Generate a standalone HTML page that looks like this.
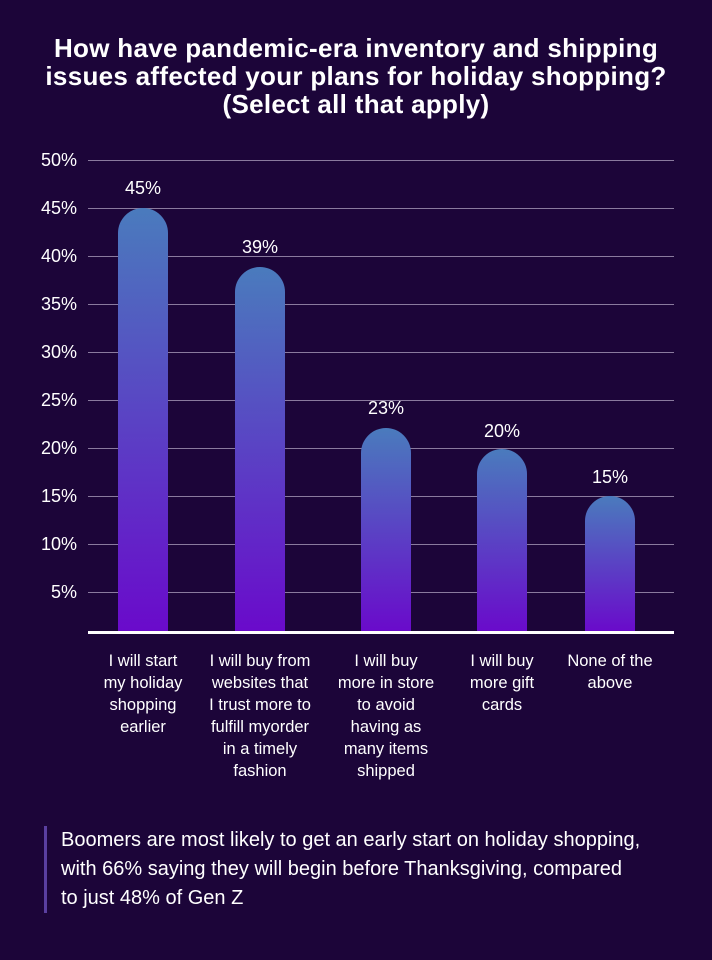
<!DOCTYPE html>
<html><head><meta charset="utf-8"><style>
body{margin:0;background:#1c0539;}
.w{position:relative;width:712px;height:960px;background:#1c0539;font-family:"Liberation Sans",sans-serif;color:#fff;overflow:hidden}
h1{position:absolute;left:0;top:34px;width:712px;margin:0;text-align:center;font-size:26px;line-height:28px;font-weight:bold;letter-spacing:0.3px}
.g{position:absolute;left:88px;width:586px;height:1px;background:#8a7a9e}
.yl{position:absolute;left:20px;width:57px;text-align:right;font-size:18px;line-height:20px}
.bar{position:absolute;width:50px;bottom:328px;border-radius:25px 25px 0 0;background:linear-gradient(#4a7bbd,#6a0acb)}
.v{position:absolute;width:80px;text-align:center;font-size:18px}
.xl{position:absolute;top:650px;width:140px;text-align:center;font-size:16.5px;line-height:22px;white-space:nowrap}
.note{position:absolute;left:44px;top:826px;border-left:3px solid #5a3fa0;padding-left:14px;font-size:20px;line-height:29px;width:640px;white-space:nowrap}
</style></head><body><div class="w">
<h1>How have pandemic-era inventory and shipping<br>issues affected your plans for holiday shopping?<br>(Select all that apply)</h1>
<div class="g" style="top:160px"></div><div class="g" style="top:208px"></div><div class="g" style="top:256px"></div><div class="g" style="top:304px"></div><div class="g" style="top:352px"></div><div class="g" style="top:400px"></div><div class="g" style="top:448px"></div><div class="g" style="top:496px"></div><div class="g" style="top:544px"></div><div class="g" style="top:592px"></div>
<div class="yl" style="top:150px">50%</div><div class="yl" style="top:198px">45%</div><div class="yl" style="top:246px">40%</div><div class="yl" style="top:294px">35%</div><div class="yl" style="top:342px">30%</div><div class="yl" style="top:390px">25%</div><div class="yl" style="top:438px">20%</div><div class="yl" style="top:486px">15%</div><div class="yl" style="top:534px">10%</div><div class="yl" style="top:582px">5%</div>
<div class="bar" style="left:118px;top:208px"></div>
<div class="bar" style="left:235px;top:267px"></div>
<div class="bar" style="left:361px;top:428px"></div>
<div class="bar" style="left:477px;top:449px"></div>
<div class="bar" style="left:585px;top:496px"></div>
<div style="position:absolute;left:88px;top:631px;width:586px;height:3px;background:#fff"></div>
<div class="v" style="left:103px;top:178px">45%</div>
<div class="v" style="left:220px;top:237px">39%</div>
<div class="v" style="left:346px;top:398px">23%</div>
<div class="v" style="left:462px;top:421px">20%</div>
<div class="v" style="left:570px;top:467px">15%</div>
<div class="xl" style="left:73px">I will start<br>my holiday<br>shopping<br>earlier</div>
<div class="xl" style="left:190px">I will buy from<br>websites that<br>I trust more to<br>fulfill myorder<br>in a timely<br>fashion</div>
<div class="xl" style="left:316px">I will buy<br>more in store<br>to avoid<br>having as<br>many items<br>shipped</div>
<div class="xl" style="left:432px">I will buy<br>more gift<br>cards</div>
<div class="xl" style="left:540px">None of the<br>above</div>
<div class="note">Boomers are most likely to get an early start on holiday shopping,<br>with 66% saying they will begin before Thanksgiving, compared<br>to just 48% of Gen Z</div>
</div></body></html>
